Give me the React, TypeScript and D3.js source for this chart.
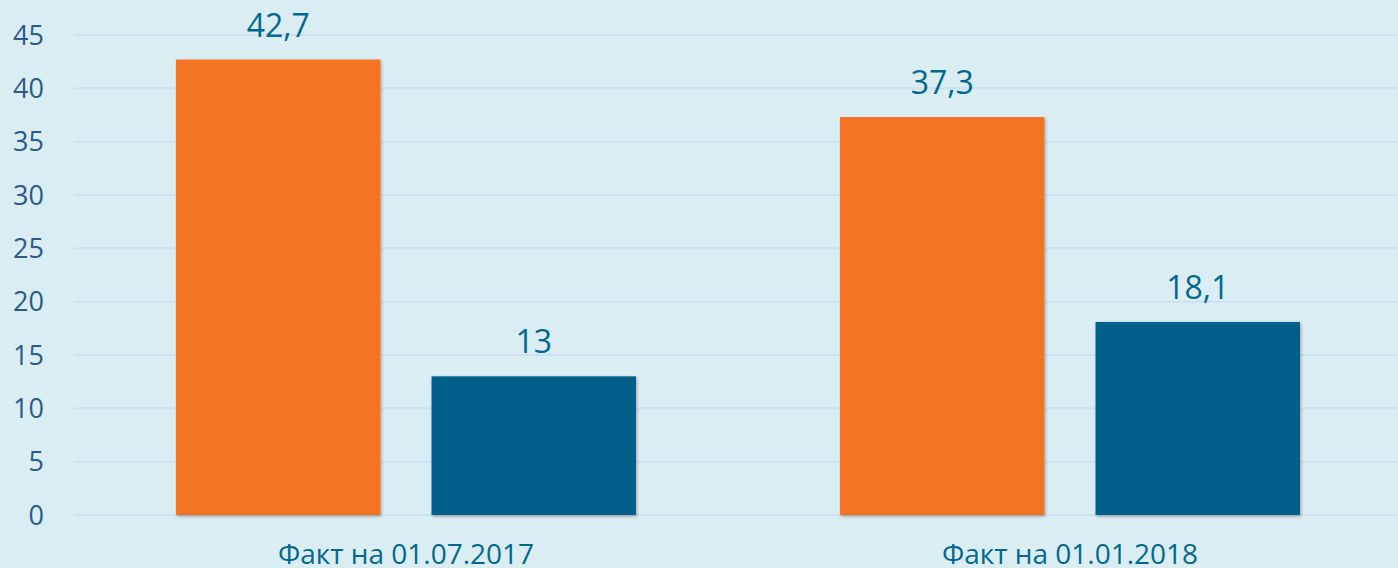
import React from "react";
import * as d3 from "d3";

const categories = ["Факт на 01.07.2017", "Факт на 01.01.2018"];
const seriesA = [42.7, 37.3];
const seriesB = [13, 18.1];
const valueLabelsA = ["42,7", "37,3"];
const valueLabelsB = ["13", "18,1"];
const yTicks = [0, 5, 10, 15, 20, 25, 30, 35, 40, 45];

const W = 1398;
const H = 568;

export default function App() {
  const x = d3.scaleBand<string>().domain(categories).range([74, 1402]).paddingInner(0).paddingOuter(0);
  const y = d3.scaleLinear().domain([0, 45]).range([515, 35]);
  const sub = d3.scaleBand<string>().domain(["a", "b"]).range([102, 664 - 102]).paddingInner(0.2).paddingOuter(0);
  const font = "'Open Sans', sans-serif";
  const series = [
    { key: "a", values: seriesA, labels: valueLabelsA, color: "#f47321" },
    { key: "b", values: seriesB, labels: valueLabelsB, color: "#006189" },
  ];
  return (
    <svg width={W} height={H} style={{ position: "absolute", left: 0, top: 0 }}>
      <defs>
        <filter id="sh" x="-10%" y="-10%" width="130%" height="130%">
          <feDropShadow dx="1" dy="1.5" stdDeviation="1.5" floodColor="#000" floodOpacity="0.3" />
        </filter>
      </defs>
      <rect x={0} y={0} width={W} height={H} fill="#daedf3" />
      {yTicks.map((t) => (
        <g key={t}>
          <line x1={74} x2={W} y1={y(t)} y2={y(t)} stroke="#cde0f2" strokeWidth={2} />
          <text x={44} y={y(t)} dy="0.36em" textAnchor="end" fontFamily={font} fontSize={27} fill="#2b5a8b">
            {t}
          </text>
        </g>
      ))}
      {categories.map((c, i) => (
        <g key={c}>
          {series.map((s) => {
            const bx = (x(c) as number) + (sub(s.key) as number);
            const bw = sub.bandwidth();
            const v = s.values[i];
            return (
              <g key={s.key}>
                <rect x={bx} y={y(v)} width={bw} height={y(0) - y(v)} fill={s.color} filter="url(#sh)" />
                <text x={bx + bw / 2} y={y(v) - 23} textAnchor="middle" fontFamily={font} fontSize={32} fill="#00688f">
                  {s.labels[i]}
                </text>
              </g>
            );
          })}
          <text x={(x(c) as number) + x.bandwidth() / 2} y={564} textAnchor="middle" fontFamily={font} fontSize={28} fill="#00688f">
            {c}
          </text>
        </g>
      ))}
    </svg>
  );
}
